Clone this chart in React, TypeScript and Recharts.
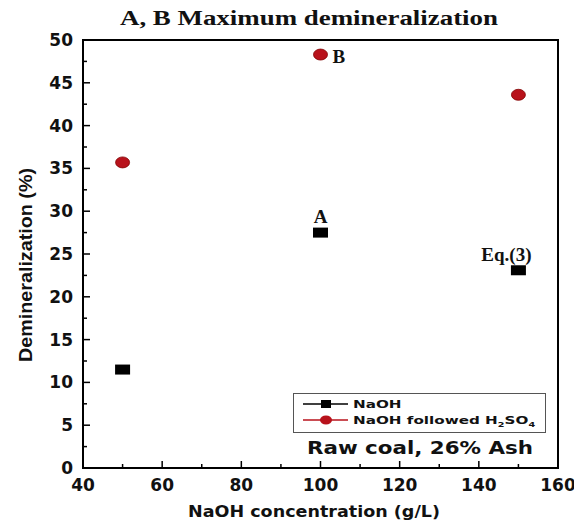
import React from 'react';
import {
  ScatterChart,
  Scatter,
  XAxis,
  YAxis,
  ReferenceArea,
  ReferenceDot,
  Legend,
  Customized,
} from 'recharts';

// ---- data ----
const concentrations = [50, 100, 150];
const naohValues = [11.5, 27.5, 23.1];
const naohH2so4Values = [35.7, 48.3, 43.6];
const xTicks = [40, 50, 60, 70, 80, 90, 100, 110, 120, 130, 140, 150, 160];
const yTicks = [0, 2.5, 5, 7.5, 10, 12.5, 15, 17.5, 20, 22.5, 25, 27.5, 30, 32.5, 35, 37.5, 40, 42.5, 45, 47.5, 50];
const seriesNames = ['NaOH', 'NaOH followed H2SO4'];
const titleText = 'A, B Maximum demineralization';
const xTitle = 'NaOH concentration (g/L)';
const yTitle = 'Demineralization (%)';
const noteText = 'Raw coal, 26% Ash';
const annotationA = { text: 'A', x: 100, y: 27.5 };
const annotationB = { text: 'B', x: 100, y: 48.3 };
const annotationEq = { text: 'Eq.(3)', x: 150, y: 23.1 };

const naohData = concentrations.map((x, i) => ({ x, y: naohValues[i] }));
const acidData = concentrations.map((x, i) => ({ x, y: naohH2so4Values[i] }));

const RED = '#b8121b';
const SANS = '"DejaVu Sans", "Liberation Sans", Arial, sans-serif';
const SERIF = '"Liberation Serif", "DejaVu Serif", "Times New Roman", serif';

const XTick = (p: any) => {
  const v = p.payload.value;
  const major = v % 20 === 0;
  return (
    <g>
      <line x1={p.x} x2={p.x} y1={p.y} y2={p.y - (major ? 7 : 4)} stroke="#000" strokeWidth={1.5} />
      {major && (
        <text x={p.x} y={p.y + 23} textAnchor="middle" fontFamily={SANS} fontWeight="bold" fontSize={17} fill="#111">
          {v}
        </text>
      )}
    </g>
  );
};

const YTick = (p: any) => {
  const v = p.payload.value;
  const major = v % 5 === 0;
  return (
    <g>
      <line x1={p.x} x2={p.x + (major ? 7 : 4)} y1={p.y} y2={p.y} stroke="#000" strokeWidth={1.5} />
      {major && (
        <text x={p.x - 10} y={p.y + 6} textAnchor="end" fontFamily={SANS} fontWeight="bold" fontSize={17} fill="#111">
          {v}
        </text>
      )}
    </g>
  );
};

const RTick = (p: any) => {
  const v = p.payload.value;
  const major = v % 5 === 0;
  return <line x1={p.x} x2={p.x - (major ? 7 : 4)} y1={p.y} y2={p.y} stroke="#000" strokeWidth={1.5} />;
};

const SquareShape = (p: any) => (
  <rect x={p.cx - 7.5} y={p.cy - 5} width={15} height={10} fill="#000" />
);
const CircleShape = (p: any) => (
  <ellipse cx={p.cx} cy={p.cy} rx={7} ry={5.5} fill={RED} stroke="#800000" strokeWidth={0.8} />
);

const annLabel = (text: string, dx: number, dy: number, anchor: string) => (props: any) => {
  const vb = props.viewBox || {};
  return (
    <text
      x={(vb.x ?? 0) + dx}
      y={(vb.y ?? 0) + dy}
      textAnchor={anchor}
      fontFamily={SERIF}
      fontWeight="bold"
      fontSize={19}
      fill="#111"
    >
      {text}
    </text>
  );
};

const LegendBox = () => (
  <svg width={262} height={72} style={{ display: 'block', overflow: 'visible' }}>
    <rect x={0.5} y={0.5} width={252} height={39} fill="#fff" stroke="#555" strokeWidth={1} />
    <line x1={10} x2={55} y1={11} y2={11} stroke="#000" strokeWidth={1.5} />
    <rect x={28} y={7} width={10} height={8} fill="#000" />
    <line x1={10} x2={55} y1={27} y2={27} stroke={RED} strokeWidth={1.5} />
    <ellipse cx={33} cy={27} rx={6} ry={4.5} fill={RED} />
    <g transform="translate(60,15) scale(1.38,1)">
      <text x={0} y={0} fontFamily={SANS} fontWeight="bold" fontSize={11} fill="#111">
        {seriesNames[0]}
      </text>
    </g>
    <g transform="translate(60,31) scale(1.38,1)">
      <text x={0} y={0} fontFamily={SANS} fontWeight="bold" fontSize={11} fill="#111">
        NaOH followed H
        <tspan fontSize={7} dy={3}>2</tspan>
        <tspan dy={-3}>SO</tspan>
        <tspan fontSize={7} dy={3}>4</tspan>
      </text>
    </g>
    <text
      x={127}
      y={61}
      textAnchor="middle"
      fontFamily={SANS}
      fontWeight="bold"
      fontSize={18}
      fill="#111"
      textLength={226}
      lengthAdjust="spacingAndGlyphs"
    >
      {noteText}
    </text>
  </svg>
);

const Titles = () => (
  <g>
    <text
      x={301}
      y={17}
      textAnchor="middle"
      fontFamily={SERIF}
      fontWeight="bold"
      fontSize={20}
      fill="#111"
      textLength={378}
      lengthAdjust="spacingAndGlyphs"
    >
      {titleText}
    </text>
    <text
      x={306}
      y={509}
      textAnchor="middle"
      fontFamily={SANS}
      fontWeight="bold"
      fontSize={15}
      fill="#111"
      textLength={252}
      lengthAdjust="spacingAndGlyphs"
    >
      {xTitle}
    </text>
    <text
      transform="translate(24,257) rotate(-90)"
      x={0}
      y={0}
      textAnchor="middle"
      fontFamily='"Liberation Sans Narrow", "Liberation Sans", Arial, sans-serif'
      fontWeight="bold"
      fontSize={19}
      fill="#111"
      textLength={194}
      lengthAdjust="spacingAndGlyphs"
    >
      {yTitle}
    </text>
  </g>
);

export default function App() {
  return (
    <div style={{ width: 574, height: 517, background: '#fff' }}>
      <ScatterChart width={574} height={517} margin={{ top: 32, right: 24, bottom: 0, left: 0 }}>
        <XAxis
          type="number"
          dataKey="x"
          domain={[40, 160]}
          ticks={xTicks}
          interval={0}
          axisLine={false}
          tickLine={false}
          tickSize={0}
          tickMargin={0}
          tick={<XTick />}
          height={57}
          allowDataOverflow
        />
        <YAxis
          type="number"
          dataKey="y"
          domain={[0, 50]}
          ticks={yTicks}
          interval={0}
          axisLine={false}
          tickLine={false}
          tickSize={0}
          tickMargin={0}
          tick={<YTick />}
          width={75}
          allowDataOverflow
        />
        <YAxis
          yAxisId="right"
          orientation="right"
          type="number"
          domain={[0, 50]}
          ticks={yTicks}
          interval={0}
          axisLine={false}
          tickLine={false}
          tickSize={0}
          tickMargin={0}
          tick={<RTick />}
          width={0}
          allowDataOverflow
        />
        <ReferenceArea x1={40} x2={160} y1={0} y2={50} fill="none" stroke="#000" strokeWidth={2} />
        <Scatter name={seriesNames[0]} data={naohData} fill="#000" shape={SquareShape} isAnimationActive={false} />
        <Scatter name={seriesNames[1]} data={acidData} fill={RED} shape={CircleShape} isAnimationActive={false} />
        <ReferenceDot
          x={annotationA.x}
          y={annotationA.y}
          r={0}
          fill="none"
          stroke="none"
          label={annLabel(annotationA.text, 0, -10, 'middle')}
        />
        <ReferenceDot
          x={annotationB.x}
          y={annotationB.y}
          r={0}
          fill="none"
          stroke="none"
          label={annLabel(annotationB.text, 12, 8, 'start')}
        />
        <ReferenceDot
          x={annotationEq.x}
          y={annotationEq.y}
          r={0}
          fill="none"
          stroke="none"
          label={annLabel(annotationEq.text, -12, -9, 'middle')}
        />
        <Legend
          layout="horizontal"
          verticalAlign="middle"
          align="center"
          content={<LegendBox />}
          wrapperStyle={{ position: 'absolute', left: 285, top: 385, width: 262, height: 72 }}
        />
        <Customized component={<Titles />} />
      </ScatterChart>
    </div>
  );
}
